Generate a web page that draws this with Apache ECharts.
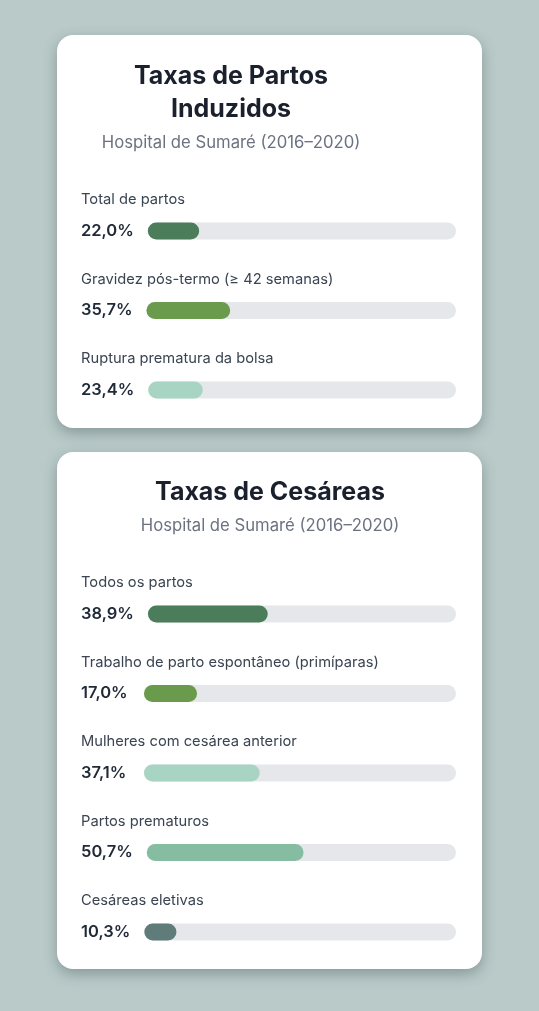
<!DOCTYPE html>
<html>
<head>
<meta charset="utf-8">
<title>Taxas de Partos</title>
<script src="https://cdn.jsdelivr.net/npm/echarts@6/dist/echarts.min.js"></script>
<style>
html, body { margin: 0; padding: 0; background: #b9cac9; }
#main { width: 539px; height: 1011px; }
</style>
</head>
<body>
<div id="main"></div>
<script>
/* dados */
var partosNames = ['Total de partos', 'Gravidez pós-termo (≥ 42 semanas)', 'Ruptura prematura da bolsa'];
var partosValues = [22.0, 35.7, 23.4];
var cesareaNames = ['Todos os partos', 'Trabalho de parto espontâneo (primíparas)', 'Mulheres com cesárea anterior', 'Partos prematuros', 'Cesáreas eletivas'];
var cesareaValues = [38.9, 17.0, 37.1, 50.7, 10.3];

var partosColors = ['#4b7d5a', '#6a9a4b', '#a8d5c3'];
var cesareaColors = ['#4b7d5a', '#6a9a4b', '#a8d5c3', '#86bca1', '#5f7b7a'];

var FONT = 'Inter, "Noto Sans", sans-serif';
var ctx = document.createElement('canvas').getContext('2d');
ctx.font = '600 16.5px ' + FONT;

function fmt(v) {
	return v.toFixed(1).replace('.', ',') + '%';
}

var graphics = [], grids = [], xAxes = [], yAxes = [], series = [];

function addCard(card) {
	graphics.push({
		type: 'rect', z: 0,
		shape: { x: 57, y: card.top, width: 425, height: card.height, r: 16 },
		style: { fill: '#ffffff', shadowBlur: 14, shadowOffsetY: 5, shadowColor: 'rgba(40,60,60,0.35)' }
	});
	graphics.push({
		type: 'text', z: 1, x: card.titleX, y: card.titleY,
		style: { text: card.title, font: '700 25px ' + FONT, lineHeight: 33, fill: '#1a202c', align: 'center', verticalAlign: 'top' }
	});
	graphics.push({
		type: 'text', z: 1, x: card.titleX, y: card.subY,
		style: { text: 'Hospital de Sumaré (2016–2020)', font: '400 16.7px ' + FONT, fill: '#6b7280', align: 'center', verticalAlign: 'middle' }
	});

	card.names.forEach(function (name, i) {
		var labelY = card.firstLabel + i * 79.5;
		var barY = card.firstBar + i * 79.5;
		var valText = fmt(card.values[i]);
		var w = ctx.measureText(valText).width;
		var left = 81 + Math.max(w, 49) + 14;
		var idx = grids.length;

		graphics.push({
			type: 'text', z: 1, x: 81, y: labelY,
			style: { text: name, font: '400 14.7px ' + FONT, fill: '#3b4452', verticalAlign: 'middle' }
		});

		grids.push({ left: left, right: 83, top: barY - 8.5, height: 17 });
		xAxes.push({ type: 'value', gridIndex: idx, min: 0, max: card.max, show: false });
		yAxes.push({
			type: 'category', gridIndex: idx, data: [name],
			axisLine: { show: false }, axisTick: { show: false }, splitLine: { show: false },
			axisLabel: {
				show: true, align: 'left', margin: left - 81,
				color: '#1f2937', fontSize: 16.5, fontWeight: 600, fontFamily: FONT,
				formatter: function () { return valText; }
			}
		});
		series.push({
			type: 'bar', xAxisIndex: idx, yAxisIndex: idx, silent: true,
			data: [card.max], barWidth: 17, barGap: '-100%',
			itemStyle: { color: '#e6e7ea', borderRadius: 8.5 }
		});
		series.push({
			type: 'bar', xAxisIndex: idx, yAxisIndex: idx, z: 3,
			data: [card.values[i]], barWidth: 17, barGap: '-100%',
			itemStyle: { color: card.colors[i], borderRadius: 8.5 }
		});
	});
}

addCard({
	top: 35, height: 393, titleX: 231, titleY: 60, subY: 143,
	title: 'Taxas de Partos\nInduzidos',
	names: partosNames, values: partosValues, colors: partosColors,
	max: 132, firstLabel: 200, firstBar: 231
});
addCard({
	top: 452, height: 517, titleX: 270, titleY: 476, subY: 526,
	title: 'Taxas de Cesáreas',
	names: cesareaNames, values: cesareaValues, colors: cesareaColors,
	max: 100, firstLabel: 583, firstBar: 614
});

var chart = echarts.init(document.getElementById('main'));
chart.setOption({
	animation: false,
	backgroundColor: '#b9cac9',
	graphic: { elements: graphics },
	grid: grids,
	xAxis: xAxes,
	yAxis: yAxes,
	series: series
});
</script>
</body>
</html>
